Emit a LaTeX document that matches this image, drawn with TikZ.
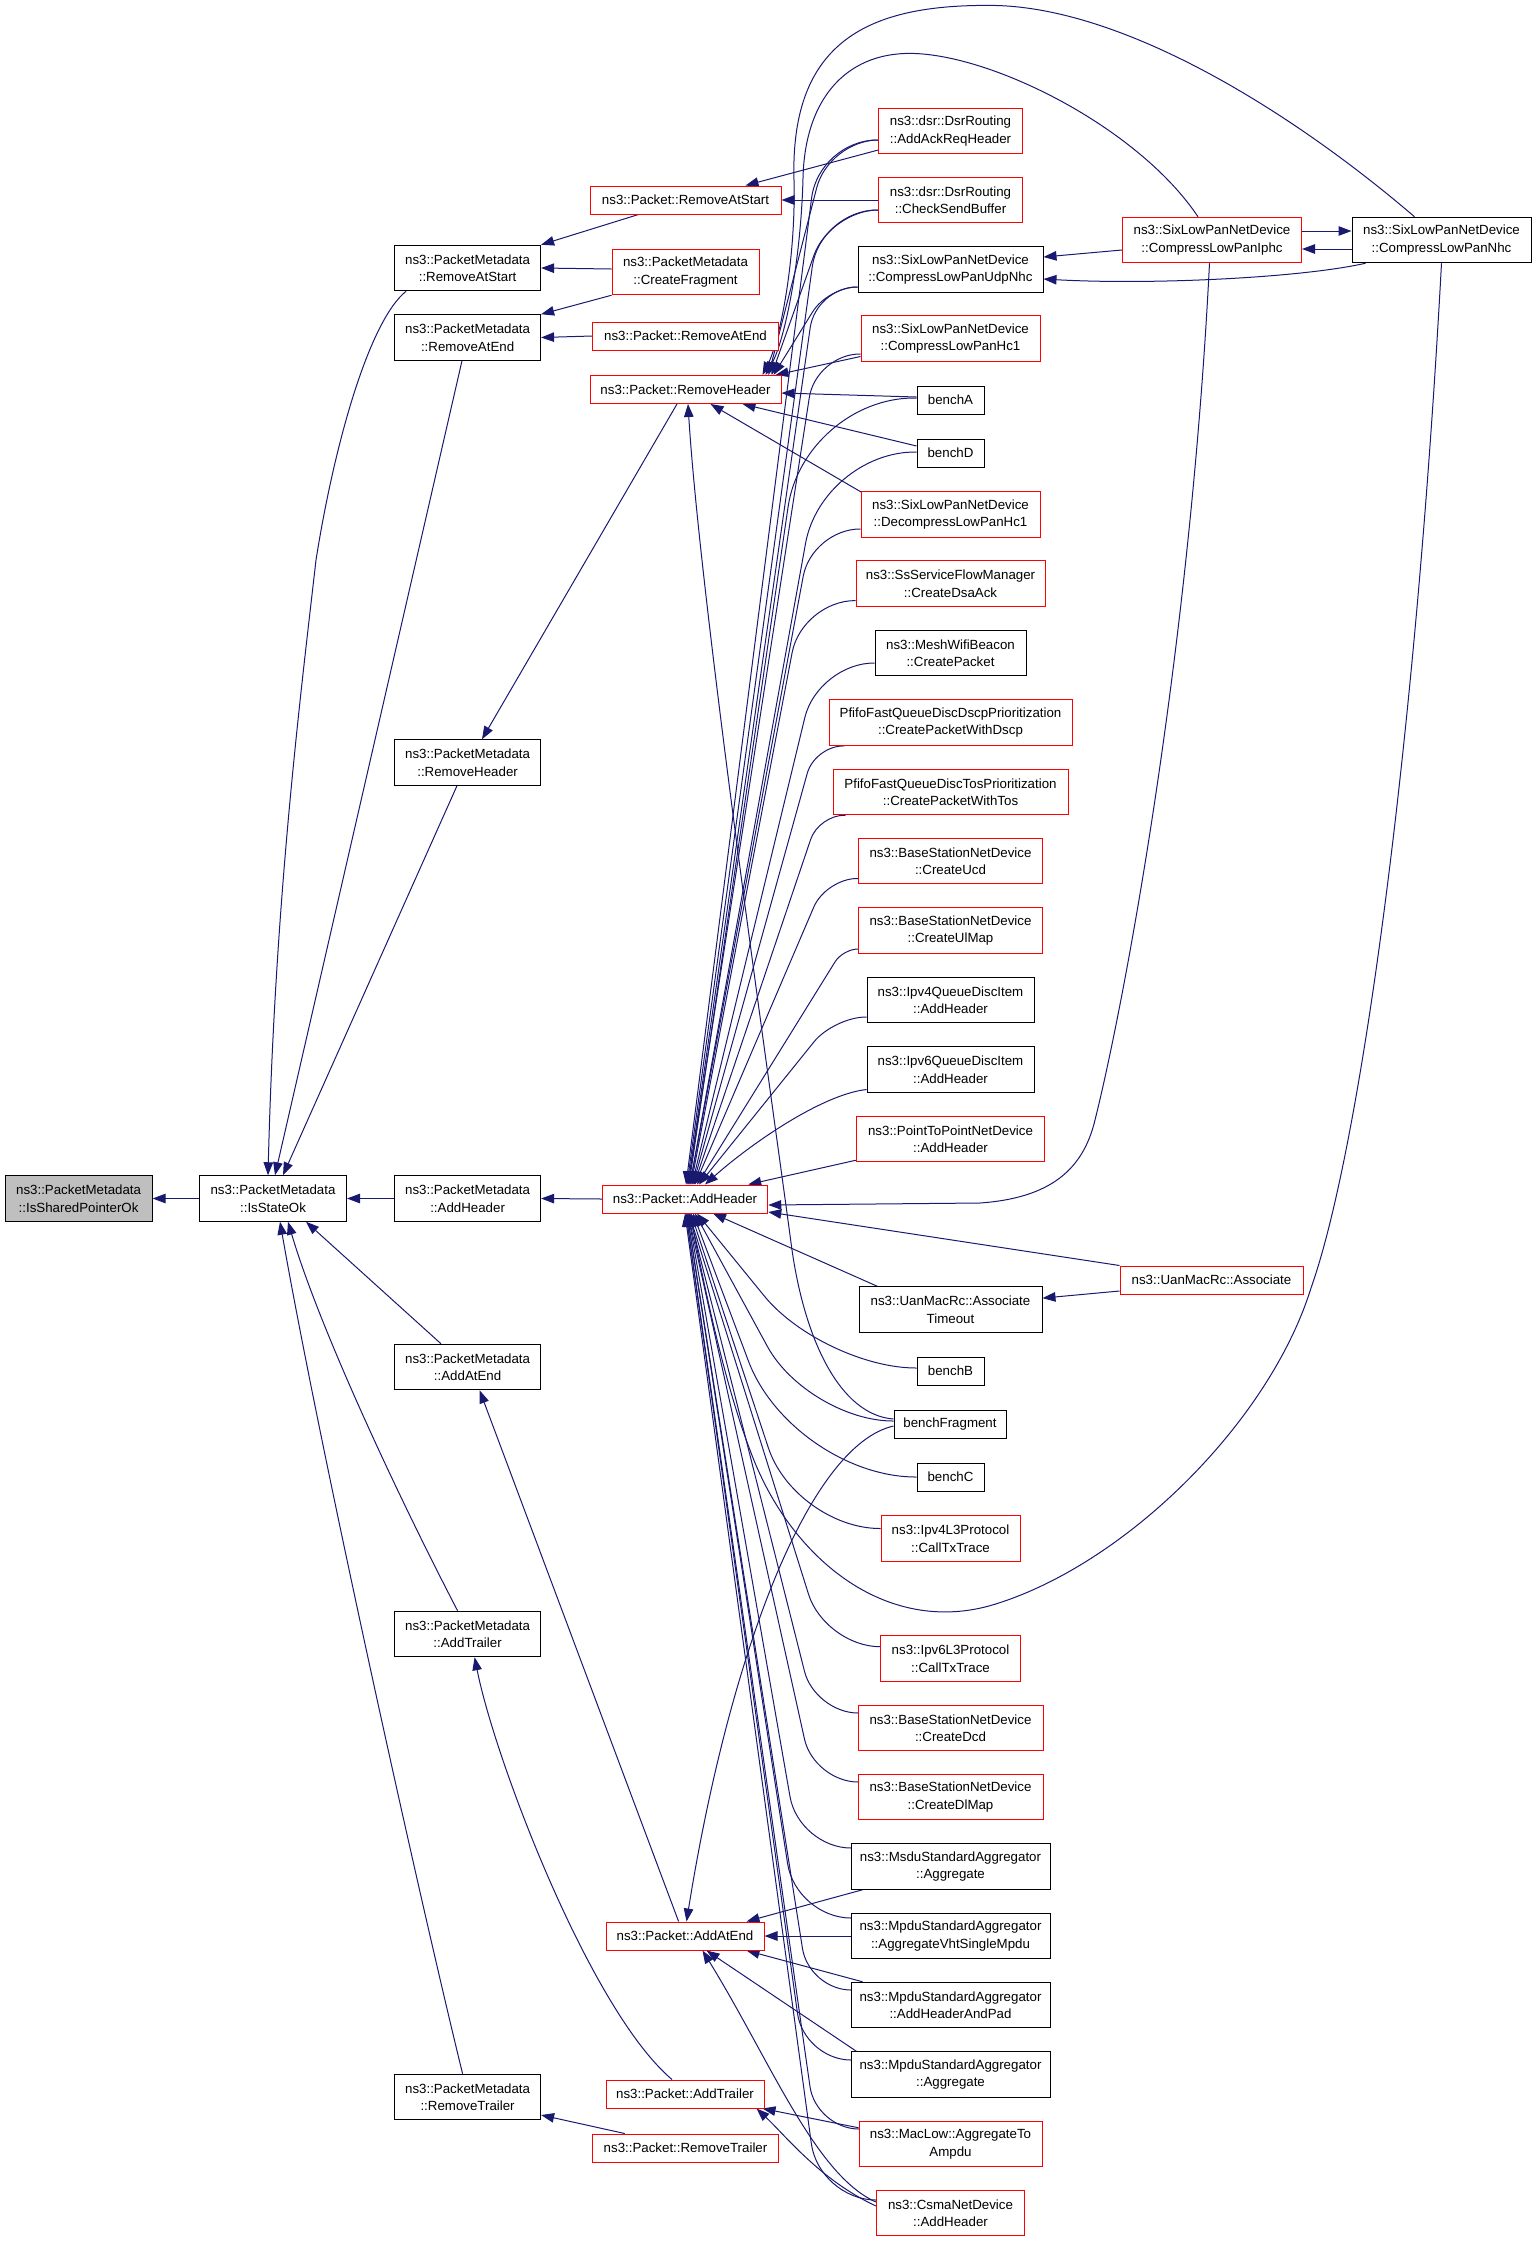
\documentclass[tikz,border=0pt]{standalone}
\usepackage{fontspec}
\setmainfont{Liberation Sans}
\usetikzlibrary{arrows.meta,calc,backgrounds}
\definecolor{edgecol}{HTML}{191970}
\definecolor{nodegray}{HTML}{BFBFBF}
\begin{document}
\begin{tikzpicture}[x=1pt,y=-1pt,
  nbox/.style={draw=black, line width=1pt, fill=white, align=center, inner sep=0pt, minimum height=45.5pt, font=\fontsize{13.3}{17.5}\selectfont},
  rbox/.style={nbox, draw=red},
  sl/.style={minimum height=28pt},
  edge/.style={draw=edgecol, line width=1pt, -{Triangle[length=13pt,width=9.5pt]}},
]
\useasboundingbox (0,0) rectangle (1536,2241);
% ---------- nodes ----------
\node[nbox, fill=nodegray, minimum width=147pt] (isshared) at (78.6,1198.5) {ns3::PacketMetadata\\::IsSharedPointerOk};
\node[nbox, minimum width=147pt] (isstate) at (273,1198.5) {ns3::PacketMetadata\\::IsStateOk};
\node[nbox, minimum width=146pt] (pm_ras) at (467.6,268) {ns3::PacketMetadata\\::RemoveAtStart};
\node[nbox, minimum width=146pt] (pm_rae) at (467.6,337.5) {ns3::PacketMetadata\\::RemoveAtEnd};
\node[nbox, minimum width=146pt] (pm_rh) at (467.6,762.5) {ns3::PacketMetadata\\::RemoveHeader};
\node[nbox, minimum width=146pt] (pm_ah) at (467.6,1198.5) {ns3::PacketMetadata\\::AddHeader};
\node[nbox, minimum width=146pt] (pm_aae) at (467.6,1367) {ns3::PacketMetadata\\::AddAtEnd};
\node[nbox, minimum width=146pt] (pm_at) at (467.6,1634) {ns3::PacketMetadata\\::AddTrailer};
\node[nbox, minimum width=146pt] (pm_rt) at (467.6,2097) {ns3::PacketMetadata\\::RemoveTrailer};
\node[rbox, sl, minimum width=191pt] (p_ras) at (685.5,200) {ns3::Packet::RemoveAtStart};
\node[rbox, minimum width=147pt] (pm_cf) at (685.5,272) {ns3::PacketMetadata\\::CreateFragment};
\node[rbox, sl, minimum width=185.5pt] (p_rae) at (685.5,336) {ns3::Packet::RemoveAtEnd};
\node[rbox, sl, minimum width=191pt] (p_rh) at (685.5,389.5) {ns3::Packet::RemoveHeader};
\node[rbox, sl, minimum width=165.5pt] (p_ah) at (685,1199) {ns3::Packet::AddHeader};
\node[rbox, sl, minimum width=158pt] (p_aae) at (685,1936) {ns3::Packet::AddAtEnd};
\node[rbox, sl, minimum width=158pt] (p_at) at (685,2094) {ns3::Packet::AddTrailer};
\node[rbox, sl, minimum width=185.5pt] (p_rt) at (685.5,2148) {ns3::Packet::RemoveTrailer};
\node[rbox, minimum width=143.5pt] (dsr_aar) at (950.5,131) {ns3::dsr::DsrRouting\\::AddAckReqHeader};
\node[rbox, minimum width=143.5pt] (dsr_csb) at (950.5,200) {ns3::dsr::DsrRouting\\::CheckSendBuffer};
\node[nbox, minimum width=185pt] (udpnhc) at (950.5,269.5) {ns3::SixLowPanNetDevice\\::CompressLowPanUdpNhc};
\node[rbox, minimum width=179pt] (hc1) at (950.5,338.5) {ns3::SixLowPanNetDevice\\::CompressLowPanHc1};
\node[nbox, sl, minimum width=67pt] (benchA) at (950.5,400) {benchA};
\node[nbox, sl, minimum width=67pt] (benchD) at (950.5,453) {benchD};
\node[rbox, minimum width=179pt] (dhc1) at (950.5,514.5) {ns3::SixLowPanNetDevice\\::DecompressLowPanHc1};
\node[rbox, minimum width=189pt] (dsaack) at (950.5,583.6) {ns3::SsServiceFlowManager\\::CreateDsaAck};
\node[nbox, minimum width=151pt] (mesh) at (950.5,653) {ns3::MeshWifiBeacon\\::CreatePacket};
\node[rbox, minimum width=243pt] (dscp) at (950.5,722.7) {PfifoFastQueueDiscDscpPrioritization\\::CreatePacketWithDscp};
\node[rbox, minimum width=235pt] (tos) at (950.5,792) {PfifoFastQueueDiscTosPrioritization\\::CreatePacketWithTos};
\node[rbox, minimum width=184.5pt] (ucd) at (950.5,861) {ns3::BaseStationNetDevice\\::CreateUcd};
\node[rbox, minimum width=184.5pt] (ulmap) at (950.5,930.5) {ns3::BaseStationNetDevice\\::CreateUlMap};
\node[nbox, minimum width=167pt] (ipv4qdi) at (950.5,1000) {ns3::Ipv4QueueDiscItem\\::AddHeader};
\node[nbox, minimum width=167pt] (ipv6qdi) at (950.5,1069.5) {ns3::Ipv6QueueDiscItem\\::AddHeader};
\node[rbox, minimum width=188.5pt] (p2p) at (950.5,1139) {ns3::PointToPointNetDevice\\::AddHeader};
\node[nbox, minimum width=183pt] (assoct) at (950.5,1309.6) {ns3::UanMacRc::Associate\\Timeout};
\node[nbox, sl, minimum width=67pt] (benchB) at (950.5,1371) {benchB};
\node[nbox, sl, minimum width=112pt] (benchFrag) at (950,1424) {benchFragment};
\node[nbox, sl, minimum width=67pt] (benchC) at (950.5,1477) {benchC};
\node[rbox, minimum width=139pt] (ipv4l3) at (950.5,1538.5) {ns3::Ipv4L3Protocol\\::CallTxTrace};
\node[rbox, minimum width=139.5pt] (ipv6l3) at (950.5,1658.7) {ns3::Ipv6L3Protocol\\::CallTxTrace};
\node[rbox, minimum width=185pt] (dcd) at (950.5,1728) {ns3::BaseStationNetDevice\\::CreateDcd};
\node[rbox, minimum width=185pt] (dlmap) at (950.5,1797) {ns3::BaseStationNetDevice\\::CreateDlMap};
\node[nbox, minimum width=199pt] (msdu) at (950.5,1866.5) {ns3::MsduStandardAggregator\\::Aggregate};
\node[nbox, minimum width=199pt] (vht) at (950.5,1936) {ns3::MpduStandardAggregator\\::AggregateVhtSingleMpdu};
\node[nbox, minimum width=199pt] (ahp) at (950.5,2005) {ns3::MpduStandardAggregator\\::AddHeaderAndPad};
\node[nbox, minimum width=199pt] (mpduagg) at (950.5,2074.6) {ns3::MpduStandardAggregator\\::Aggregate};
\node[rbox, minimum width=183pt] (maclow) at (950.5,2144) {ns3::MacLow::AggregateTo\\Ampdu};
\node[rbox, minimum width=148pt] (csma) at (950.5,2213) {ns3::CsmaNetDevice\\::AddHeader};
\node[rbox, minimum width=179pt] (iphc) at (1212,240) {ns3::SixLowPanNetDevice\\::CompressLowPanIphc};
\node[rbox, sl, minimum width=183pt] (assoc) at (1211.5,1280) {ns3::UanMacRc::Associate};
\node[nbox, minimum width=179pt] (nhc) at (1441.5,240) {ns3::SixLowPanNetDevice\\::CompressLowPanNhc};
% ---------- edges ----------
\begin{scope}[on background layer]
% left part
\draw[edge] (isstate.west) -- (isshared.east);
\draw[edge] ($(pm_ras.south west)+(12,0)$) .. controls (370,320) and (335,440) .. (316,560) .. controls (300,700) and (275,900) .. ($(isstate.north)+(-5,0)$);
\draw[edge] ($(pm_rae.south)+(-5.6,0)$) -- ($(isstate.north)+(2,0)$);
\draw[edge] ($(pm_rh.south)+(-10.6,0)$) -- ($(isstate.north)+(10,0)$);
\draw[edge] (pm_ah.west) -- (isstate.east);
\draw[edge] ($(pm_aae.north)+(-26.6,0)$) -- ($(isstate.south)+(33,0)$);
\draw[edge] ($(pm_at.north)+(-10,0)$) .. controls (400,1500) and (320,1330) .. ($(isstate.south)+(15,0)$);
\draw[edge] ($(pm_rt.north)+(-5,0)$) .. controls (420,1900) and (320,1450) .. ($(isstate.south)+(7,0)$);
\draw[edge] ($(p_ras.south west)+(49,0)$) -- (pm_ras.north east);
\draw[edge] ($(pm_cf.west)+(0,-3)$) -- (pm_ras.east);
\draw[edge] (pm_cf.south west) -- (pm_rae.north east);
\draw[edge] (p_rae.west) -- (pm_rae.east);
\draw[edge] ($(p_rh.south)+(-8.5,0)$) -- ($(pm_rh.north)+(14.4,0)$);
\draw[edge] (p_ah.west) -- (pm_ah.east);
\draw[edge] ($(p_aae.north)+(-6.4,0)$) -- ($(pm_aae.south)+(12,0)$);
\draw[edge] ($(p_at.north)+(-13,0)$) .. controls (590,2010) and (495,1760) .. ($(pm_at.south)+(7,0)$);
\draw[edge] ($(p_rt.north west)+(32.5,0)$) -- ($(pm_rt.east)+(0,18)$);
% RemoveAtStart
\draw[edge] ($(dsr_aar.west)+(0,19)$) -- ($(p_ras.north)+(60,0)$);
\draw[edge] (dsr_csb.west) -- (p_ras.east);
% right side
\draw[edge] ($(iphc.west)+(0,10)$) -- ($(udpnhc.east)+(0,-12.5)$);
\draw[edge] ($(nhc.south west)+(14,0)$) .. controls (1300,278) and (1150,285) .. ($(udpnhc.east)+(0,9.5)$);
\draw[edge] ($(iphc.east)+(0,-9)$) -- ($(nhc.west)+(0,-9)$);
\draw[edge] ($(nhc.west)+(0,9)$) -- ($(iphc.east)+(0,9)$);
\draw[edge] ($(assoc.west)+(0,11)$) -- ($(assoct.east)+(0,-11.5)$);
\draw[edge] (assoc.north west) -- ($(p_ah.south east)+(0,-1.5)$);
% RemoveHeader
\draw[edge] ($(nhc.north)+(-27,0)$) .. controls (1290,110) and (1120,5) .. (988.6,5.4) .. controls (870,5) and (790,40) .. (794,180) .. controls (796,260) and (780,340) .. ($(p_rh.north)+(77,0)$);
\draw[edge] ($(iphc.north)+(-14,0)$) .. controls (1140,130) and (1000,58) .. (917,53.6) .. controls (850,50) and (805,95) .. (803,178) .. controls (801,260) and (785,340) .. ($(p_rh.north)+(80,0)$);
\draw[edge, rounded corners=49pt] ($(dsr_aar.west)+(0,9)$) -- (829,140) -- ($(p_rh.north)+(83,0)$);
\draw[edge, rounded corners=48pt] ($(dsr_csb.west)+(0,10)$) -- (830,210) -- ($(p_rh.north)+(86,0)$);
\draw[edge, rounded corners=29pt] ($(udpnhc.west)+(0,17.5)$) -- (828,287) -- ($(p_rh.north)+(88,0)$);
\draw[edge] ($(hc1.west)+(0,18)$) -- ($(p_rh.north east)+(-6,0)$);
\draw[edge] ($(benchA.west)+(0,-3)$) -- ($(p_rh.east)+(0,3.5)$);
\draw[edge] ($(benchD.west)+(0,-7)$) -- ($(p_rh.south)+(57,0)$);
\draw[edge] ($(dhc1.north west)+(1,1)$) -- ($(p_rh.south)+(25,0)$);
\draw[edge] ($(benchFrag.west)+(0,-5)$) .. controls (840,1415) and (805,1340) .. (792,1250) .. controls (772,1100) and (700,600) .. ($(p_rh.south)+(2.5,0)$);
% AddHeader, callers above
\draw[edge, rounded corners=58pt] ($(dsr_aar.west)+(0,9)$) -- (819,140) -- ($(p_ah.north)+(1,0)$);
\draw[edge, rounded corners=57pt] ($(dsr_csb.west)+(0,10)$) -- (820,210) -- ($(p_ah.north)+(2,0)$);
\draw[edge, rounded corners=41pt] ($(udpnhc.west)+(0,17.5)$) -- (816,287) -- ($(p_ah.north)+(3,0)$);
\draw[edge, rounded corners=44pt] ($(hc1.west)+(0,15.5)$) -- (816,354) -- ($(p_ah.north)+(3,0)$);
\draw[edge, rounded corners=110pt] ($(benchA.west)+(0,-2)$) -- (804,398) -- ($(p_ah.north)+(4,0)$);
\draw[edge, rounded corners=93pt] ($(benchD.west)+(0,-1)$) -- (822,452) -- ($(p_ah.north)+(5,0)$);
\draw[edge, rounded corners=48pt] ($(dhc1.west)+(0,14.5)$) -- (812,529) -- ($(p_ah.north)+(5,0)$);
\draw[edge, rounded corners=53pt] ($(dsaack.west)+(0,17)$) -- (802,600.6) -- ($(p_ah.north)+(6,0)$);
\draw[edge, rounded corners=56pt] ($(mesh.west)+(0,10)$) -- (818,663) -- ($(p_ah.north)+(7,0)$);
\draw[edge, rounded corners=29pt] ($(dscp.south west)+(16,0)$) -- (815,745.4) -- ($(p_ah.north)+(8,0)$);
\draw[edge, rounded corners=26pt] ($(tos.south west)+(13,0)$) -- (819,814.7) -- ($(p_ah.north)+(9,0)$);
\draw[edge, rounded corners=31pt] ($(ucd.west)+(0,17.5)$) -- (826,878.5) -- ($(p_ah.north)+(10,0)$);
\draw[edge, rounded corners=15pt] ($(ulmap.west)+(0,18.5)$) -- (843,949) -- ($(p_ah.north)+(12,0)$);
\draw[edge, rounded corners=32pt] ($(ipv4qdi.west)+(0,17)$) -- (834,1017) -- ($(p_ah.north)+(14,0)$);
\draw[edge] ($(ipv6qdi.west)+(0,20)$) .. controls +(-45,5) and +(45,-40) .. ($(p_ah.north)+(20,0)$);
\draw[edge] ($(p2p.south west)+(0,-2)$) -- ($(p_ah.north east)+(-20,0)$);
% AddHeader, callers at right
\draw[edge] ($(iphc.south)+(-2.5,0)$) .. controls (1190,650) and (1125,1000) .. (1095,1120) .. controls (1083,1170) and (1050,1198) .. (980,1203) -- ($(p_ah.east)+(0,6)$);
\draw[edge] (nhc.south) .. controls (1415,750) and (1360,1150) .. (1311,1288) .. controls (1270,1420) and (1130,1560) .. (1000,1602.6) .. controls (890,1640) and (790,1560) .. (750,1450) .. controls (725,1385) and (705,1290) .. ($(p_ah.south)+(5,0)$);
% AddHeader, callers below
\draw[edge] ($(assoct.north west)+(19,0)$) -- ($(p_ah.south)+(28,0)$);
\draw[edge, rounded corners=93pt] ($(benchB.west)+(0,-3)$) -- (823,1368) -- ($(p_ah.south)+(12,0)$);
\draw[edge, rounded corners=85pt] ($(benchFrag.west)+(0,-3)$) -- (808,1421) -- ($(p_ah.south)+(10,0)$);
\draw[edge, rounded corners=124pt] (benchC.west) -- (792,1477) -- ($(p_ah.south)+(8,0)$);
\draw[edge, rounded corners=85pt] ($(ipv4l3.west)+(0,-10)$) -- (795,1528.5) -- ($(p_ah.south)+(6,0)$);
\draw[edge, rounded corners=55pt] ($(ipv6l3.west)+(0,-12)$) -- (825,1646.7) -- ($(p_ah.south)+(4,0)$);
\draw[edge, rounded corners=43pt] ($(dcd.west)+(0,-15)$) -- (815,1713) -- ($(p_ah.south)+(4,0)$);
\draw[edge, rounded corners=44pt] ($(dlmap.west)+(0,-15)$) -- (814,1782) -- ($(p_ah.south)+(3,0)$);
\draw[edge, rounded corners=52pt] ($(msdu.west)+(0,-18.5)$) -- (799,1848) -- ($(p_ah.south)+(3,0)$);
\draw[edge, rounded corners=55pt] ($(vht.west)+(0,-18)$) -- (796,1918) -- ($(p_ah.south)+(2,0)$);
\draw[edge, rounded corners=42pt] ($(ahp.west)+(0,-15)$) -- (809,1990) -- ($(p_ah.south)+(2,0)$);
\draw[edge, rounded corners=47pt] ($(mpduagg.west)+(0,-14.6)$) -- (804,2060) -- ($(p_ah.south)+(1,0)$);
\draw[edge, rounded corners=43pt] ($(maclow.west)+(0,-15)$) -- (816,2129) -- ($(p_ah.south)+(1,0)$);
\draw[edge, rounded corners=57pt] ($(csma.west)+(0,-13)$) -- (819,2200) -- (p_ah.south);
% AddAtEnd
\draw[edge] ($(msdu.south west)+(12,0)$) -- ($(p_aae.north east)+(-18,0)$);
\draw[edge] (vht.west) -- (p_aae.east);
\draw[edge] ($(ahp.north west)+(12,0)$) -- ($(p_aae.south east)+(-18,0)$);
\draw[edge] ($(mpduagg.north west)+(6,0)$) -- ($(p_aae.south)+(21.5,0)$);
\draw[edge] ($(csma.west)+(0,-11)$) .. controls (815,2175) and (770,2060) .. ($(p_aae.south)+(17.5,0)$);
\draw[edge] ($(benchFrag.west)+(0,2)$) .. controls (810,1445) and (730,1650) .. ($(p_aae.north)+(1.5,0)$);
% AddTrailer
\draw[edge] ($(maclow.north west)+(0,7)$) -- ($(p_at.south east)+(-2,0)$);
\draw[edge] ($(csma.west)+(0,-7)$) .. controls (820,2180) and (785,2135) .. ($(p_at.south east)+(-8,0)$);
\end{scope}
\end{tikzpicture}
\end{document}
